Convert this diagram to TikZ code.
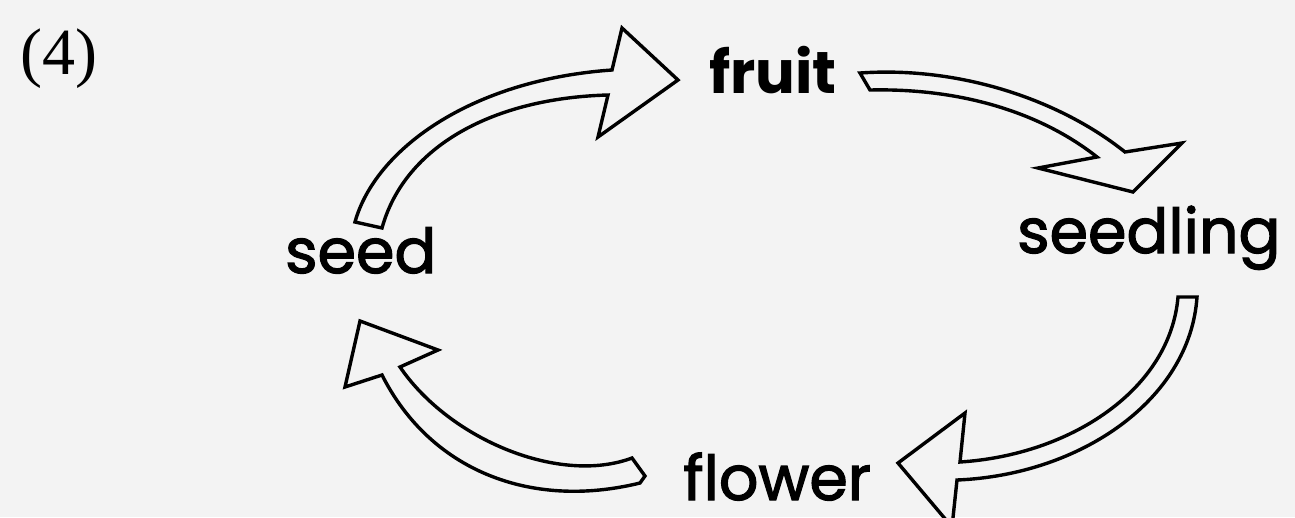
\documentclass[tikz,border=0pt]{standalone}
\usepackage{fontspec}
\setmainfont{Poppins}[FakeBold=2]
\newfontfamily\numfont{Liberation Serif}
\newfontfamily\boldfont{Poppins Bold}
\definecolor{paper}{HTML}{F3F3F3}
\begin{document}
\begin{tikzpicture}[x=1pt,y=-1pt,
        lbl/.style={inner sep=0pt, anchor=base west, text depth=0pt, font=\fontsize{62}{70}\selectfont},
        blk/.style={draw, fill=paper, line width=3.4pt, line join=miter}]
            \useasboundingbox (0,0) rectangle (1295,517);
            \fill[paper] (0,0) rectangle (1295,517);
            \clip (0,0) rectangle (1295,517);

            \node[lbl, font=\numfont\fontsize{66}{70}\selectfont] (num) at (20,74) {(4)};
            \node[lbl, font=\boldfont\fontsize{59}{70}\selectfont] (fruit) at (709,93) {fruit};
            \node[lbl] (seedling) at (1017,253) {seedling};
            \node[lbl] (seed) at (285,273) {seed};
            \node[lbl] (flower) at (683,500) {flower};

            \draw[blk] (355,222) .. controls (375,150) and (470,80) .. (612,70) -- (622,28) -- (678,80)
                -- (598,137) -- (608,95) .. controls (495,98) and (405,145) .. (382,228) -- cycle;

            \draw[blk] (860,73) .. controls (960,66) and (1060,100) .. (1125,152) -- (1182,143) -- (1133,192)
                -- (1038,168) -- (1097,157) .. controls (1040,112) and (960,88) .. (870,90) -- cycle;

            \draw[blk] (1178,297) -- (1197,297) .. controls (1190,400) and (1080,475) .. (957,480) -- (952,527)
                -- (898,463) -- (965,413) -- (960,462) .. controls (1070,455) and (1170,390) .. (1178,297) -- cycle;

            \draw[blk] (632,458) -- (645,476) -- (640,483) .. controls (530,510) and (430,470) .. (382,375)
                -- (345,387) -- (360,321) -- (438,350) -- (400,367) .. controls (450,440) and (560,485) .. (632,458) -- cycle;
        \end{tikzpicture}
\end{document}
